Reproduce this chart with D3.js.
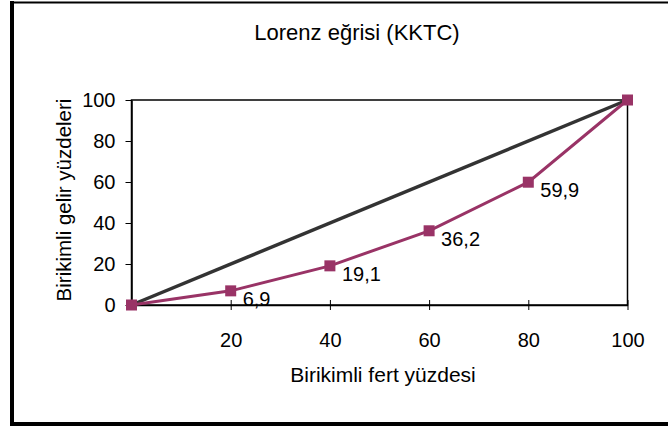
<!DOCTYPE html>
<html><head><meta charset="utf-8">
<script src="https://cdn.jsdelivr.net/npm/d3@7"></script>
<style>body{margin:0;background:#fff}svg{display:block}text{font-family:"Liberation Sans",Arial,sans-serif;fill:#000}</style>
</head><body>
<script>
const title = "Lorenz eğrisi (KKTC)";
const xTitle = "Birikimli fert yüzdesi";
const yTitle = "Birikimli gelir yüzdeleri";
const xValues = [0, 20, 40, 60, 80, 100];
const lorenz = [0, 6.9, 19.1, 36.2, 59.9, 100];
const equality = [0, 100];
const equalityX = [0, 100];
const labels = ["", "6,9", "19,1", "36,2", "59,9", ""];
const xTicks = [20, 40, 60, 80, 100];
const yTicks = [0, 20, 40, 60, 80, 100];

const W = 668, H = 428;
const svg = d3.select("body").append("svg").attr("width", W).attr("height", H);

// outer frame
svg.append("line").attr("x1",12).attr("x2",12).attr("y1",1).attr("y2",426).attr("stroke","#000").attr("stroke-width",4);
svg.append("line").attr("x1",10).attr("x2",W).attr("y1",2.5).attr("y2",2.5).attr("stroke","#000").attr("stroke-width",2);
svg.append("line").attr("x1",10).attr("x2",W).attr("y1",424).attr("y2",424).attr("stroke","#000").attr("stroke-width",4);

const x = d3.scaleLinear().domain([0,100]).range([131.5, 627.5]);
const y = d3.scaleLinear().domain([0,100]).range([305, 100]);

// plot area border
svg.append("rect").attr("x", x(0)).attr("y", y(100)).attr("width", x(100)-x(0)).attr("height", y(0)-y(100))
  .attr("fill","none").attr("stroke","#000").attr("stroke-width",1.5);

const F = "Liberation Sans, Arial, sans-serif";
// axes
const xAxis = d3.axisBottom(x).tickValues(xTicks).tickSize(5).tickSizeOuter(0).tickPadding(23);
const gx = svg.append("g").attr("transform", `translate(0,${y(0)})`).call(xAxis);
gx.select(".domain").attr("stroke","#000").attr("stroke-width",1.5);
gx.selectAll(".tick line").attr("y1",-5).attr("y2",5).attr("stroke","#000").attr("stroke-width",1);
gx.selectAll(".tick text").attr("font-size","20px").attr("font-family",F).attr("fill","#000");

const yAxis = d3.axisLeft(y).tickValues(yTicks).tickSize(6).tickSizeOuter(0).tickPadding(10);
const gy = svg.append("g").attr("transform", `translate(${x(0)},0)`).call(yAxis);
gy.select(".domain").attr("stroke","#000").attr("stroke-width",1.5);
gy.selectAll(".tick line").attr("stroke","#000").attr("stroke-width",1);
gy.selectAll(".tick text").attr("font-size","20px").attr("font-family",F).attr("fill","#000");

// equality line
svg.append("path").datum(equality.map((v,i)=>[equalityX[i], v]))
  .attr("d", d3.line().x(d=>x(d[0])).y(d=>y(d[1])))
  .attr("fill","none").attr("stroke","#333333").attr("stroke-width",3.5);

// lorenz line
const pts = lorenz.map((v,i)=>[xValues[i], v]);
svg.append("path").datum(pts)
  .attr("d", d3.line().x(d=>x(d[0])).y(d=>y(d[1])))
  .attr("fill","none").attr("stroke","#993366").attr("stroke-width",3);
svg.selectAll(".mk").data(pts).enter().append("rect")
  .attr("x", d=>x(d[0])-5.5).attr("y", d=>y(d[1])-5.5).attr("width",11).attr("height",11)
  .attr("fill","#993366");

svg.selectAll(".lbl").data(pts).enter().append("text")
  .attr("x", d=>x(d[0])+12).attr("y", d=>y(d[1])+15)
  .attr("font-size","20px")
  .text((d,i)=>labels[i]);

// titles
svg.append("text").attr("x",357).attr("y",40).attr("text-anchor","middle").attr("font-size","22px").text(title);
svg.append("text").attr("x",383).attr("y",382).attr("text-anchor","middle").attr("font-size","21px").text(xTitle);
svg.append("text").attr("transform","translate(71,200) rotate(-90)").attr("text-anchor","middle").attr("font-size","20.5px").text(yTitle);
</script>
</body></html>
